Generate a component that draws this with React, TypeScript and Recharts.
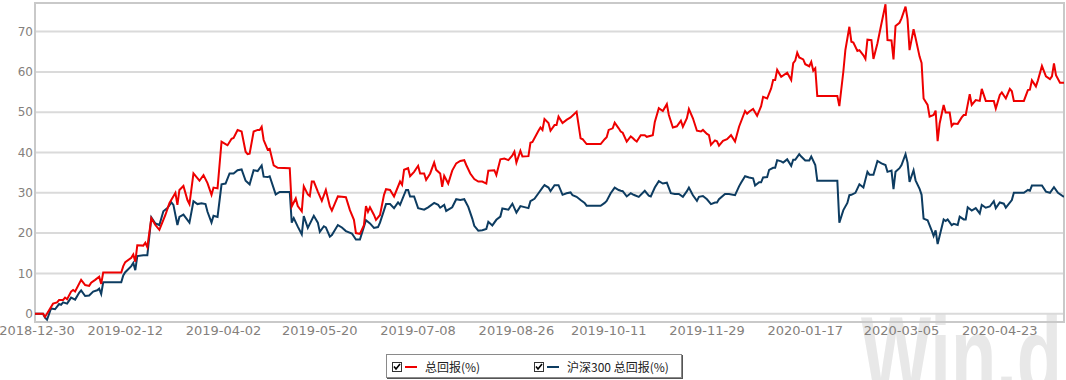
import React from "react"
import { LineChart, Line, XAxis, YAxis, CartesianGrid, ReferenceArea } from "recharts"

const seriesNames = ["总回报(%)", "沪深300 总回报(%)"]
const seriesColors = ["#ee0000", "#0d3c61"]

const xTickLabels = [
  "2018-12-30", "2019-02-12", "2019-04-02", "2019-05-20", "2019-07-08", "2019-08-26",
  "2019-10-11", "2019-11-29", "2020-01-17", "2020-03-05", "2020-04-23",
]
const yTicks = [0, 10, 20, 30, 40, 50, 60, 70]
const xStart = "2018-12-29"
const xEnd = "2020-05-25"

const fundDates = [
  "2018-12-29", "2019-01-02", "2019-01-03", "2019-01-07", "2019-01-09", "2019-01-10", "2019-01-12", "2019-01-13",
  "2019-01-14", "2019-01-16", "2019-01-17", "2019-01-18", "2019-01-21", "2019-01-23", "2019-01-25", "2019-01-26",
  "2019-01-28", "2019-01-30", "2019-01-31", "2019-02-01", "2019-02-10", "2019-02-11", "2019-02-12", "2019-02-15",
  "2019-02-16", "2019-02-17", "2019-02-18", "2019-02-21", "2019-02-22", "2019-02-23", "2019-02-25", "2019-02-27",
  "2019-03-01", "2019-03-03", "2019-03-04", "2019-03-06", "2019-03-09", "2019-03-10", "2019-03-11", "2019-03-13",
  "2019-03-15", "2019-03-16", "2019-03-18", "2019-03-21", "2019-03-23", "2019-03-25", "2019-03-27", "2019-03-28",
  "2019-03-30", "2019-04-01", "2019-04-03", "2019-04-04", "2019-04-06", "2019-04-07", "2019-04-09", "2019-04-11",
  "2019-04-13", "2019-04-14", "2019-04-15", "2019-04-17", "2019-04-19", "2019-04-20", "2019-04-21", "2019-04-22",
  "2019-04-24", "2019-04-25", "2019-04-27", "2019-04-29", "2019-05-05", "2019-05-06", "2019-05-08", "2019-05-09",
  "2019-05-11", "2019-05-12", "2019-05-14", "2019-05-15", "2019-05-16", "2019-05-17", "2019-05-19", "2019-05-21",
  "2019-05-23", "2019-05-25", "2019-05-26", "2019-05-29", "2019-05-31", "2019-06-02", "2019-06-04", "2019-06-06",
  "2019-06-07", "2019-06-09", "2019-06-11", "2019-06-12", "2019-06-13", "2019-06-14", "2019-06-16", "2019-06-17",
  "2019-06-19", "2019-06-21", "2019-06-22", "2019-06-24", "2019-06-26", "2019-06-29", "2019-06-30", "2019-07-01",
  "2019-07-03", "2019-07-04", "2019-07-06", "2019-07-08", "2019-07-09", "2019-07-11", "2019-07-12", "2019-07-14",
  "2019-07-16", "2019-07-17", "2019-07-19", "2019-07-20", "2019-07-21", "2019-07-23", "2019-07-25", "2019-07-27",
  "2019-07-29", "2019-07-31", "2019-08-01", "2019-08-03", "2019-08-05", "2019-08-07", "2019-08-09", "2019-08-11",
  "2019-08-12", "2019-08-15", "2019-08-16", "2019-08-18", "2019-08-20", "2019-08-22", "2019-08-24", "2019-08-25",
  "2019-08-26", "2019-08-28", "2019-08-29", "2019-09-01", "2019-09-02", "2019-09-03", "2019-09-06", "2019-09-07",
  "2019-09-08", "2019-09-09", "2019-09-11", "2019-09-12", "2019-09-14", "2019-09-15", "2019-09-16", "2019-09-18",
  "2019-09-20", "2019-09-22", "2019-09-25", "2019-09-27", "2019-09-28", "2019-09-30", "2019-10-07", "2019-10-09",
  "2019-10-10", "2019-10-11", "2019-10-13", "2019-10-14", "2019-10-16", "2019-10-17", "2019-10-18", "2019-10-20",
  "2019-10-22", "2019-10-23", "2019-10-24", "2019-10-25", "2019-10-27", "2019-10-29", "2019-10-30", "2019-11-02",
  "2019-11-03", "2019-11-05", "2019-11-07", "2019-11-09", "2019-11-10", "2019-11-12", "2019-11-14", "2019-11-16",
  "2019-11-17", "2019-11-19", "2019-11-20", "2019-11-22", "2019-11-24", "2019-11-26", "2019-11-27", "2019-11-29",
  "2019-11-30", "2019-12-01", "2019-12-03", "2019-12-04", "2019-12-05", "2019-12-07", "2019-12-09", "2019-12-11",
  "2019-12-13", "2019-12-15", "2019-12-18", "2019-12-19", "2019-12-20", "2019-12-22", "2019-12-24", "2019-12-26",
  "2019-12-27", "2019-12-29", "2019-12-31", "2020-01-01", "2020-01-02", "2020-01-03", "2020-01-05", "2020-01-08",
  "2020-01-10", "2020-01-11", "2020-01-12", "2020-01-13", "2020-01-14", "2020-01-16", "2020-01-17", "2020-01-19",
  "2020-01-20", "2020-01-21", "2020-01-22", "2020-01-23", "2020-02-02", "2020-02-03", "2020-02-05", "2020-02-06",
  "2020-02-08", "2020-02-09", "2020-02-10", "2020-02-12", "2020-02-13", "2020-02-15", "2020-02-16", "2020-02-17",
  "2020-02-19", "2020-02-20", "2020-02-22", "2020-02-24", "2020-02-26", "2020-02-27", "2020-02-29", "2020-03-01",
  "2020-03-02", "2020-03-04", "2020-03-05", "2020-03-07", "2020-03-08", "2020-03-09", "2020-03-11", "2020-03-12",
  "2020-03-14", "2020-03-15", "2020-03-16", "2020-03-18", "2020-03-19", "2020-03-21", "2020-03-22", "2020-03-23",
  "2020-03-24", "2020-03-26", "2020-03-27", "2020-03-29", "2020-03-30", "2020-03-31", "2020-04-02", "2020-04-04",
  "2020-04-05", "2020-04-06", "2020-04-08", "2020-04-09", "2020-04-11", "2020-04-13", "2020-04-14", "2020-04-16",
  "2020-04-20", "2020-04-21", "2020-04-23", "2020-04-24", "2020-04-26", "2020-04-28", "2020-04-29", "2020-04-30",
  "2020-05-05", "2020-05-07", "2020-05-08", "2020-05-09", "2020-05-11", "2020-05-12", "2020-05-14", "2020-05-16",
  "2020-05-18", "2020-05-19", "2020-05-20", "2020-05-21", "2020-05-23", "2020-05-25",
]
const fundValues = [
  0, 0, -0.8, 2.5, 2.8, 3.4, 3.4, 4.0,
  3.6, 5.5, 5.9, 5.5, 8.4, 7.1, 6.9, 7.7,
  8.4, 9.2, 7.4, 10.2, 10.2, 11.8, 12.8, 13.9,
  14.7, 12.9, 17.0, 16.9, 17.6, 16.5, 23.7, 22.0,
  20.8, 23.3, 24.5, 27.4, 30.0, 27.0, 30.7, 31.7,
  28.2, 27.2, 34.8, 33.0, 34.4, 32.4, 29.5, 31.3,
  31.1, 42.7, 42.1, 41.8, 43.4, 43.6, 45.6, 45.2,
  40.2, 39.6, 39.7, 45.2, 45.6, 45.6, 46.4, 43.1,
  40.7, 40.9, 36.8, 36.2, 36.1, 26.6, 28.6, 26.7,
  25.4, 31.6, 29.6, 29.2, 32.8, 32.8, 30.3, 28.0,
  30.7, 26.6, 25.6, 29.1, 29.0, 28.9, 25.7, 23.3,
  20.0, 19.8, 22.0, 26.7, 25.3, 26.4, 24.5, 23.3,
  24.5, 29.5, 30.9, 30.7, 29.1, 32.8, 32.0, 35.7,
  36.1, 34.1, 35.2, 36.7, 34.8, 34.8, 33.2, 34.8,
  37.5, 35.7, 34.8, 31.5, 34.2, 32.3, 35.5, 37.3,
  37.9, 38.1, 36.9, 34.8, 33.4, 32.8, 32.8, 32.3,
  35.5, 35.6, 34.4, 38.3, 38.5, 38.1, 39.3, 40.2,
  37.5, 40.4, 39.0, 39.1, 42.4, 42.6, 45.4, 46.2,
  45.6, 48.3, 47.3, 45.4, 46.8, 46.8, 48.9, 47.3,
  48.1, 48.7, 50.1, 43.5, 43.3, 42.1, 42.1, 43.3,
  43.8, 45.6, 46.0, 47.4, 46.0, 45.2, 44.9, 42.7,
  44.0, 43.6, 43.1, 42.7, 44.3, 44.3, 43.9, 44.3,
  47.6, 51.0, 50.3, 52.0, 49.3, 46.2, 46.5, 47.9,
  46.4, 48.5, 50.8, 48.5, 45.4, 45.2, 45.6, 44.6,
  44.3, 41.9, 43.0, 42.8, 41.7, 42.9, 43.3, 44.3,
  42.7, 46.4, 50.3, 49.6, 50.1, 50.8, 49.1, 51.5,
  53.8, 53.4, 55.9, 58.0, 58.0, 60.5, 58.8, 59.8,
  58.0, 62.2, 62.8, 64.8, 63.6, 63.1, 61.9, 61.4,
  62.5, 60.3, 60.9, 54.0, 54.0, 51.5, 60.1, 65.4,
  71.2, 67.5, 67.3, 65.2, 65.4, 64.1, 63.2, 68.0,
  67.9, 63.2, 67.1, 72.0, 76.8, 67.9, 67.8, 63.1,
  71.4, 72.2, 73.3, 76.2, 73.1, 65.4, 70.6, 68.4,
  63.8, 62.2, 53.4, 51.8, 48.9, 49.3, 50.4, 42.8,
  47.2, 51.8, 49.9, 49.9, 46.6, 47.2, 47.1, 48.7,
  49.3, 49.3, 54.5, 51.8, 53.0, 52.8, 55.8, 52.8,
  52.8, 50.9, 54.3, 54.9, 53.4, 55.8, 55.2, 52.8,
  52.8, 55.5, 55.6, 57.9, 56.4, 57.9, 61.5, 58.9,
  58.2, 58.9, 62.1, 59.2, 57.3, 57.3,
]

const indexDates = [
  "2018-12-29", "2019-01-02", "2019-01-03", "2019-01-04", "2019-01-06", "2019-01-08", "2019-01-10", "2019-01-11",
  "2019-01-12", "2019-01-14", "2019-01-16", "2019-01-18", "2019-01-20", "2019-01-21", "2019-01-23", "2019-01-25",
  "2019-01-27", "2019-01-29", "2019-01-30", "2019-01-31", "2019-02-01", "2019-02-10", "2019-02-11", "2019-02-12",
  "2019-02-15", "2019-02-16", "2019-02-17", "2019-02-18", "2019-02-21", "2019-02-23", "2019-02-25", "2019-02-27",
  "2019-03-01", "2019-03-03", "2019-03-05", "2019-03-07", "2019-03-08", "2019-03-10", "2019-03-11", "2019-03-13",
  "2019-03-16", "2019-03-18", "2019-03-20", "2019-03-22", "2019-03-24", "2019-03-25", "2019-03-27", "2019-03-28",
  "2019-03-30", "2019-04-01", "2019-04-03", "2019-04-05", "2019-04-07", "2019-04-09", "2019-04-11", "2019-04-13",
  "2019-04-15", "2019-04-17", "2019-04-19", "2019-04-21", "2019-04-22", "2019-04-24", "2019-04-25", "2019-04-28",
  "2019-04-30", "2019-05-05", "2019-05-06", "2019-05-07", "2019-05-09", "2019-05-11", "2019-05-12", "2019-05-14",
  "2019-05-17", "2019-05-19", "2019-05-20", "2019-05-22", "2019-05-23", "2019-05-25", "2019-05-26", "2019-05-29",
  "2019-05-31", "2019-06-02", "2019-06-05", "2019-06-07", "2019-06-09", "2019-06-12", "2019-06-14", "2019-06-16",
  "2019-06-18", "2019-06-19", "2019-06-22", "2019-06-24", "2019-06-26", "2019-06-28", "2019-06-29", "2019-07-02",
  "2019-07-03", "2019-07-04", "2019-07-06", "2019-07-08", "2019-07-11", "2019-07-13", "2019-07-16", "2019-07-18",
  "2019-07-19", "2019-07-21", "2019-07-22", "2019-07-25", "2019-07-27", "2019-07-29", "2019-07-31", "2019-08-02",
  "2019-08-04", "2019-08-05", "2019-08-07", "2019-08-09", "2019-08-11", "2019-08-12", "2019-08-14", "2019-08-16",
  "2019-08-18", "2019-08-19", "2019-08-22", "2019-08-24", "2019-08-26", "2019-08-28", "2019-09-01", "2019-09-02",
  "2019-09-04", "2019-09-06", "2019-09-08", "2019-09-09", "2019-09-11", "2019-09-12", "2019-09-14", "2019-09-16",
  "2019-09-18", "2019-09-20", "2019-09-22", "2019-09-23", "2019-09-25", "2019-09-27", "2019-09-29", "2019-09-30",
  "2019-10-07", "2019-10-09", "2019-10-10", "2019-10-12", "2019-10-14", "2019-10-16", "2019-10-17", "2019-10-18",
  "2019-10-20", "2019-10-22", "2019-10-23", "2019-10-24", "2019-10-26", "2019-10-29", "2019-10-31", "2019-11-01",
  "2019-11-03", "2019-11-05", "2019-11-07", "2019-11-09", "2019-11-11", "2019-11-13", "2019-11-15", "2019-11-17",
  "2019-11-19", "2019-11-20", "2019-11-22", "2019-11-24", "2019-11-25", "2019-11-27", "2019-11-29", "2019-12-01",
  "2019-12-03", "2019-12-04", "2019-12-05", "2019-12-08", "2019-12-10", "2019-12-13", "2019-12-15", "2019-12-16",
  "2019-12-18", "2019-12-20", "2019-12-22", "2019-12-23", "2019-12-25", "2019-12-26", "2019-12-27", "2019-12-29",
  "2019-12-30", "2020-01-01", "2020-01-02", "2020-01-03", "2020-01-05", "2020-01-06", "2020-01-08", "2020-01-10",
  "2020-01-11", "2020-01-12", "2020-01-14", "2020-01-15", "2020-01-17", "2020-01-19", "2020-01-20", "2020-01-22",
  "2020-01-23", "2020-02-02", "2020-02-03", "2020-02-05", "2020-02-07", "2020-02-08", "2020-02-09", "2020-02-11",
  "2020-02-13", "2020-02-15", "2020-02-17", "2020-02-18", "2020-02-20", "2020-02-22", "2020-02-24", "2020-02-26",
  "2020-02-27", "2020-02-29", "2020-03-01", "2020-03-02", "2020-03-04", "2020-03-05", "2020-03-07", "2020-03-08",
  "2020-03-09", "2020-03-11", "2020-03-12", "2020-03-14", "2020-03-15", "2020-03-16", "2020-03-18", "2020-03-20",
  "2020-03-21", "2020-03-22", "2020-03-23", "2020-03-26", "2020-03-27", "2020-03-28", "2020-03-30", "2020-03-31",
  "2020-04-02", "2020-04-03", "2020-04-05", "2020-04-06", "2020-04-07", "2020-04-09", "2020-04-11", "2020-04-13",
  "2020-04-14", "2020-04-16", "2020-04-18", "2020-04-20", "2020-04-21", "2020-04-23", "2020-04-25", "2020-04-26",
  "2020-04-29", "2020-04-30", "2020-05-05", "2020-05-07", "2020-05-08", "2020-05-09", "2020-05-14", "2020-05-16",
  "2020-05-18", "2020-05-20", "2020-05-22", "2020-05-25",
]
const indexValues = [
  0, 0, -1.0, -1.5, 1.3, 1.1, 2.4, 2.2,
  2.8, 2.5, 4.0, 3.5, 5.2, 5.8, 4.4, 4.5,
  5.5, 5.8, 6.2, 4.9, 7.8, 7.8, 9.5, 10.3,
  11.8, 12.6, 10.8, 14.3, 14.5, 14.5, 23.9, 22.4,
  22.0, 25.4, 26.2, 27.6, 27.0, 22.0, 24.0, 24.6,
  22.6, 27.9, 27.2, 27.4, 27.2, 25.3, 22.6, 24.3,
  24.0, 32.1, 32.3, 34.8, 34.8, 35.6, 35.8, 33.0,
  32.1, 35.6, 35.4, 36.8, 34.0, 33.9, 34.1, 29.6,
  30.2, 30.2, 22.6, 23.7, 21.6, 19.7, 24.2, 21.3,
  24.3, 22.6, 20.3, 21.7, 21.4, 19.1, 19.5, 22.0,
  21.4, 20.5, 19.9, 18.4, 18.4, 23.2, 22.4, 21.3,
  21.5, 22.6, 27.2, 27.2, 26.2, 27.6, 27.0, 30.7,
  30.7, 29.1, 29.1, 26.2, 25.8, 26.4, 27.5, 27.0,
  26.3, 27.0, 25.5, 26.4, 28.4, 28.2, 28.4, 26.5,
  23.6, 21.8, 20.6, 20.7, 21.0, 22.8, 21.9, 23.3,
  24.1, 26.1, 25.8, 27.3, 25.1, 26.7, 26.2, 27.9,
  28.5, 29.9, 31.3, 31.9, 31.3, 30.4, 31.9, 31.9,
  29.5, 29.9, 30.1, 29.4, 29.0, 28.2, 27.5, 26.8,
  26.8, 27.5, 28.0, 29.9, 31.3, 30.7, 30.5, 30.4,
  29.1, 29.9, 29.6, 29.4, 29.0, 30.5, 29.3, 29.1,
  31.3, 32.9, 32.3, 32.5, 29.9, 29.7, 29.7, 29.0,
  30.4, 31.3, 29.4, 28.0, 29.0, 29.2, 28.4, 27.2,
  27.6, 27.6, 28.4, 29.7, 29.7, 29.4, 31.6, 32.5,
  34.1, 33.8, 33.6, 31.8, 32.6, 32.6, 33.8, 33.9,
  35.7, 36.2, 36.2, 38.1, 37.8, 37.5, 38.3, 36.7,
  38.2, 38.2, 39.6, 39.0, 38.0, 38.0, 39.0, 36.9,
  33.0, 33.0, 22.6, 25.7, 27.5, 29.4, 29.5, 30.0,
  32.1, 31.3, 35.2, 34.5, 34.5, 37.9, 37.3, 36.9,
  35.2, 35.5, 30.9, 35.2, 36.1, 36.9, 39.6, 37.5,
  32.7, 35.6, 33.1, 31.0, 29.5, 23.6, 23.2, 20.7,
  19.3, 20.7, 17.3, 23.4, 23.0, 23.4, 22.0, 22.3,
  22.0, 24.1, 23.4, 23.4, 26.4, 25.6, 26.2, 24.9,
  27.0, 26.3, 26.6, 27.9, 26.2, 27.6, 27.3, 26.3,
  28.2, 30.0, 30.0, 30.7, 30.5, 31.8, 31.8, 30.3,
  30.0, 31.4, 30.0, 29.0,
]

const toDay = (s: string) =>
  Date.UTC(Number(s.slice(0, 4)), Number(s.slice(5, 7)) - 1, Number(s.slice(8, 10))) / 86400000

const fundData = fundDates.map((d, i) => ({ t: toDay(d), v: fundValues[i] }))
const indexData = indexDates.map((d, i) => ({ t: toDay(d), v: indexValues[i] }))
const xTickValues = xTickLabels.map(toDay)

const yTickStyle = { fill: "#84807c", fontSize: 12, fontFamily: "DejaVu Sans" }
const xTickStyle = { fill: "#84807c", fontSize: 13, fontFamily: "DejaVu Sans" }

function CheckBox() {
  return (
    <svg width={10} height={10} style={{ display: "block" }}>
      <rect x={0.5} y={0.5} width={9} height={9} fill="#fff" stroke="#333" />
      <polyline points="2,4.5 4,7 8,2" fill="none" stroke="#000" strokeWidth={1.6} />
    </svg>
  )
}

export default function App() {
  return (
    <div style={{ position: "relative", width: 1066, height: 380, overflow: "hidden", background: "#fff" }}>
      <style>{"body{margin:0}"}</style>
      {/* watermark */}
      <svg width={1066} height={380} style={{ position: "absolute", left: 0, top: 0 }}>
        <text
          x={861}
          y={393}
          fontSize={110}
          fontWeight="bold"
          fontFamily="Liberation Sans"
          fill="#e8e8e8"
          textLength={201}
          lengthAdjust="spacingAndGlyphs"
        >
          Win.d
        </text>
      </svg>
      <div style={{ position: "absolute", left: 0, top: 0 }}>
        <LineChart width={1066} height={380} margin={{ top: 3, right: 2, bottom: 0, left: 0 }}>
          <CartesianGrid vertical={false} stroke="#dadada" strokeWidth={2} />
          <XAxis
            dataKey="t"
            type="number"
            domain={[toDay(xStart), toDay(xEnd)]}
            allowDataOverflow
            ticks={xTickValues}
            interval={0}
            tickFormatter={(v) => xTickLabels[xTickValues.indexOf(v)] ?? ""}
            tick={xTickStyle}
            tickLine={false}
            tickSize={0}
            tickMargin={4}
            axisLine={false}
            height={58}
          />
          <YAxis
            type="number"
            domain={[-2.06, 77.1]}
            allowDataOverflow
            ticks={yTicks}
            interval={0}
            tick={yTickStyle}
            tickLine={false}
            tickSize={0}
            tickMargin={2}
            axisLine={false}
            width={35}
          />
          <ReferenceArea
            x1={toDay(xStart)}
            x2={toDay(xEnd)}
            y1={-2.06}
            y2={77.1}
            fill="none"
            stroke="#c9c9c9"
            strokeWidth={2}
            ifOverflow="visible"
          />
          <Line
            data={indexData}
            dataKey="v"
            name={seriesNames[1]}
            type="linear"
            stroke={seriesColors[1]}
            strokeWidth={2}
            dot={false}
            isAnimationActive={false}
          />
          <Line
            data={fundData}
            dataKey="v"
            name={seriesNames[0]}
            type="linear"
            stroke={seriesColors[0]}
            strokeWidth={2}
            dot={false}
            isAnimationActive={false}
          />
        </LineChart>
      </div>
      {/* legend */}
      <div
        style={{
          position: "absolute",
          left: 386,
          top: 354,
          width: 294,
          height: 22,
          border: "1px solid #8a8a8a",
          boxShadow: "1px 1px 0 #555",
          background: "#fff",
          fontFamily: "'Noto Sans CJK SC', 'DejaVu Sans', sans-serif",
          fontSize: 12,
          color: "#222",
        }}
      >
        {seriesNames.map((name, i) => (
          <div
            key={name}
            style={{
              position: "absolute",
              left: i === 0 ? 5 : 147,
              top: 7,
              display: "flex",
              alignItems: "center",
              height: 10,
              whiteSpace: "nowrap",
            }}
          >
            <CheckBox />
            <div style={{ width: 12, height: 2, background: seriesColors[i], marginLeft: 3 }} />
            <span style={{ marginLeft: 8, lineHeight: "10px" }}>{name}</span>
          </div>
        ))}
      </div>
    </div>
  )
}
